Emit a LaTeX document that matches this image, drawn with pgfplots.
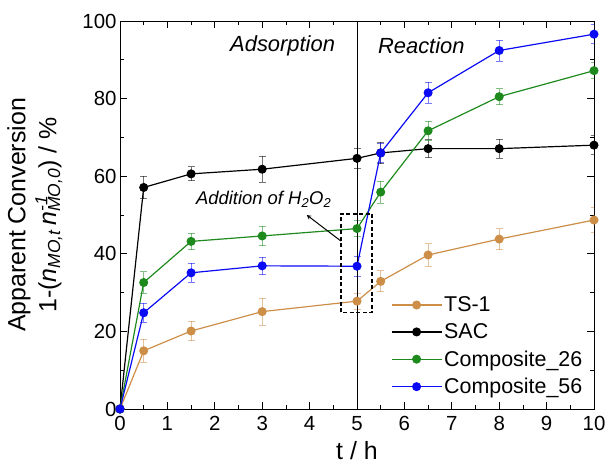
\documentclass[border=0pt]{standalone}
\usepackage{fontspec}
\setmainfont{Liberation Sans}
\usepackage{pgfplots}
\pgfplotsset{compat=1.18}
\definecolor{tsone}{RGB}{205,142,72}
\definecolor{sac}{RGB}{0,0,0}
\definecolor{cgreen}{RGB}{30,138,30}
\definecolor{cblue}{RGB}{10,10,245}
\begin{document}
\begin{tikzpicture}
\begin{axis}[
    scale only axis,
    at={(0,0)}, anchor=south west,
    width=474bp, height=388bp,
    xmin=0, xmax=10, ymin=0, ymax=100,
    xtick={0,1,...,10}, ytick={0,20,...,100},
    minor x tick num=1, minor y tick num=1,
    tick align=inside,
    major tick length=7bp, minor tick length=4bp,
    every tick/.style={black, line width=0.8pt},
    axis line style={line width=0.9pt},
    /pgf/number format/assume math mode=true,
    tick label style={font=\fontsize{20.5}{24}\selectfont},
    xticklabel style={yshift=-4bp},
    label style={font=\fontsize{25}{31}\selectfont},
    xlabel={t / h},
    ylabel={\begin{tabular}{@{}c@{}}Apparent Conversion\\1-(\textit{n}\textsubscript{\textit{MO,t}}\,\textit{n}\rlap{\textsuperscript{\textit{-1}}}\textsubscript{\textit{MO,0}}) / \%\end{tabular}},
    xlabel style={yshift=-4bp},
    ylabel style={yshift=10bp},
    legend style={draw=none, fill=none, at={(0.565,0.300)}, anchor=north west,
        font=\fontsize{21.5}{26}\selectfont, row sep=6.5bp},
    legend cell align=left,
    legend image code/.code={\draw[#1, mark repeat=2, mark phase=2] plot coordinates {(0bp,0bp) (25bp,0bp) (50bp,0bp)};},
    every axis plot/.append style={line width=1.2pt, mark=*, mark size=3.9bp,
        error bars/error bar style={line width=0.8pt, opacity=0.55},
        error bars/error mark options={rotate=90, mark size=3.5bp, line width=0.8pt, opacity=0.55}},
]
\addplot[color=tsone, mark options={fill=tsone}, error bars/.cd, y dir=both, y explicit] coordinates {
    (0,0) +- (0,0)
    (0.5,15.0) +- (0,3.0)
    (1.5,20.1) +- (0,2.5)
    (3,25.1) +- (0,3.5)
    (5,27.8) +- (0,2.1)
    (5.5,32.9) +- (0,2.7)
    (6.5,39.7) +- (0,2.9)
    (8,43.8) +- (0,2.7)
    (10,48.7) +- (0,3.2)
};
\addlegendentry{TS-1}
\addplot[color=sac, mark options={fill=sac}, error bars/.cd, y dir=both, y explicit] coordinates {
    (0,0) +- (0,0)
    (0.5,57.1) +- (0,2.9)
    (1.5,60.6) +- (0,1.8)
    (3,61.8) +- (0,3.4)
    (5,64.6) +- (0,2.5)
    (5.5,66.0) +- (0,2.8)
    (6.5,67.1) +- (0,2.3)
    (8,67.1) +- (0,2.4)
    (10,68.0) +- (0,2.4)
};
\addlegendentry{SAC}
\addplot[color=cgreen, mark options={fill=cgreen}, error bars/.cd, y dir=both, y explicit] coordinates {
    (0,0) +- (0,0)
    (0.5,32.6) +- (0,2.8)
    (1.5,43.2) +- (0,2.1)
    (3,44.6) +- (0,2.5)
    (5,46.5) +- (0,2.0)
    (5.5,55.9) +- (0,2.8)
    (6.5,71.7) +- (0,2.4)
    (8,80.5) +- (0,2.1)
    (10,87.2) +- (0,2.1)
};
\addlegendentry{Composite\_26}
\addplot[color=cblue, mark options={fill=cblue}, error bars/.cd, y dir=both, y explicit] coordinates {
    (0,0) +- (0,0)
    (0.5,24.8) +- (0,2.4)
    (1.5,35.1) +- (0,2.4)
    (3,36.9) +- (0,2.3)
    (5,36.8) +- (0,2.5)
    (5.5,66.0) +- (0,2.5)
    (6.5,81.5) +- (0,2.7)
    (8,92.4) +- (0,2.7)
    (10,96.6) +- (0,2.4)
};
\addlegendentry{Composite\_56}
\draw[line width=0.9pt] (axis cs:5,0) -- (axis cs:5,100);
\node[anchor=east, inner sep=0pt, font=\fontsize{22}{26}\selectfont\itshape] at (axis cs:4.54,93.6) {Adsorption};
\node[anchor=west, inner sep=0pt, font=\fontsize{22}{26}\selectfont\itshape] at (axis cs:5.44,93.6) {Reaction};
\draw[line width=1.4pt, dash pattern=on 4bp off 2.5bp] (axis cs:4.66,24.9) rectangle (axis cs:5.32,50.3);
\draw[-stealth, line width=1pt] (axis cs:4.66,43.3) -- (axis cs:3.94,50);
\node[font=\fontsize{18.5}{22}\selectfont\itshape] at (axis cs:3.03,54.1) {Addition of H\textsubscript{2}O\textsubscript{2}};
\end{axis}
\pgfresetboundingbox
\path[use as bounding box] (-120bp,-62bp) rectangle (487bp,409bp);
\end{tikzpicture}
\end{document}
